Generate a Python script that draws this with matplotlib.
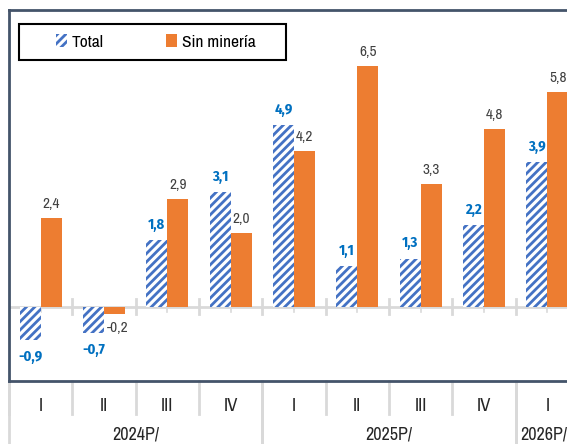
import matplotlib
matplotlib.use("Agg")
import matplotlib.pyplot as plt
from matplotlib.patches import Patch, Rectangle
from matplotlib.lines import Line2D
import matplotlib.transforms as mtransforms

plt.rcParams['font.family'] = ['Liberation Sans Narrow', 'Archivo Narrow', 'Liberation Sans', 'DejaVu Sans']
plt.rcParams['hatch.linewidth'] = 2.0

# ---------------------- data ----------------------
quarters = ["I", "II", "III", "IV", "I", "II", "III", "IV", "I"]
years = ["2024P/", "2025P/", "2026P/"]
year_span = [(0, 3), (4, 7), (8, 8)]
total = [-0.9, -0.7, 1.8, 3.1, 4.9, 1.1, 1.3, 2.2, 3.9]
sin_mineria = [2.4, -0.2, 2.9, 2.0, 4.2, 6.5, 3.3, 4.8, 5.8]

blue = '#4472C4'
orange = '#ED7D31'
frame_col = '#44546A'
grid_col = '#D9D9D9'

W, H = 567, 444
fig = plt.figure(figsize=(W / 100, H / 100), dpi=100)
ax = fig.add_axes([9 / W, 1 - 381 / H, 570 / W, 371 / H])

x = list(range(len(quarters)))
bw = 0.33
ax.bar([i - bw / 2 for i in x], total, bw, color='white', edgecolor=blue,
       hatch='////', linewidth=0, zorder=3)
ax.bar([i + bw / 2 for i in x], sin_mineria, bw, color=orange, linewidth=0, zorder=3)

ax.set_xlim(-0.5, len(quarters) - 0.5)
ax.set_ylim(-2, 8)
ax.set_xticks([])
ax.set_yticks([])

for s in ['left', 'top', 'bottom']:
    ax.spines[s].set_color(frame_col)
    ax.spines[s].set_linewidth(2)
ax.spines['right'].set_visible(False)

# zero line with tick marks
ax.axhline(0, color=grid_col, lw=2, zorder=2)
for i in range(len(quarters)):
    ax.plot([i + 0.5, i + 0.5], [-0.2, 0.2], color=grid_col, lw=2, zorder=2)
    ax.plot([i, i], [-0.15, 0], color=grid_col, lw=1.2, zorder=2)

# data labels
for i, v in enumerate(total):
    off = 11 if v >= 0 else -12
    ax.annotate(f"{v:.1f}".replace('.', ','), (i - bw / 2, v), xytext=(0, off),
                textcoords='offset points', ha='center', va='center',
                family=['Fira Sans Condensed', 'DejaVu Sans'], fontsize=10.5,
                fontweight='bold', color='#0070C0', zorder=4)
for i, v in enumerate(sin_mineria):
    off = 10 if v >= 0 else -10
    ax.annotate(f"{v:.1f}".replace('.', ','), (i + bw / 2, v), xytext=(2 if v < 0 else 0, off),
                textcoords='offset points', ha='center', va='center',
                fontsize=11, color='#404040', zorder=4)

# category axis below plot
trans = mtransforms.blended_transform_factory(ax.transData, ax.transAxes)
for i, q in enumerate(quarters):
    ax.text(i, -0.068, q, transform=trans, ha='center', va='center', fontsize=13.5, color='#262626')
for i in range(len(quarters) + 1):
    ax.add_line(Line2D([i - 0.5, i - 0.5], [0, -0.088], transform=trans, color=grid_col,
                       lw=2, clip_on=False))
for (a, b), y in zip(year_span, years):
    ax.text((a + b) / 2 - (0.06 if a == b else 0), -0.145, y, transform=trans, ha='center',
            va='center', fontsize=13, color='#262626')
    for edge in (a - 0.5, b + 0.5):
        ax.add_line(Line2D([edge, edge], [0, -0.25], transform=trans, color=grid_col,
                           lw=2, clip_on=False))

# legend with square frame
fig.patches.append(Rectangle((19 / W, 1 - 60 / H), 267 / W, 36 / H, transform=fig.transFigure,
                             fill=True, facecolor='white', edgecolor='black', lw=1.5, zorder=5))
handles = [Patch(facecolor='white', edgecolor=blue, hatch='////', linewidth=0, label='Total'),
           Patch(facecolor=orange, linewidth=0, label='Sin minería')]
leg = fig.legend(handles=handles, loc='center', bbox_to_anchor=(156 / W, 1 - 42 / H), ncol=2,
                 frameon=False, fontsize=12.5, handlelength=0.6, handleheight=0.7,
                 handletextpad=0.3, columnspacing=3.6)
leg.set_zorder(6)

fig.savefig('out.png', dpi=100)
